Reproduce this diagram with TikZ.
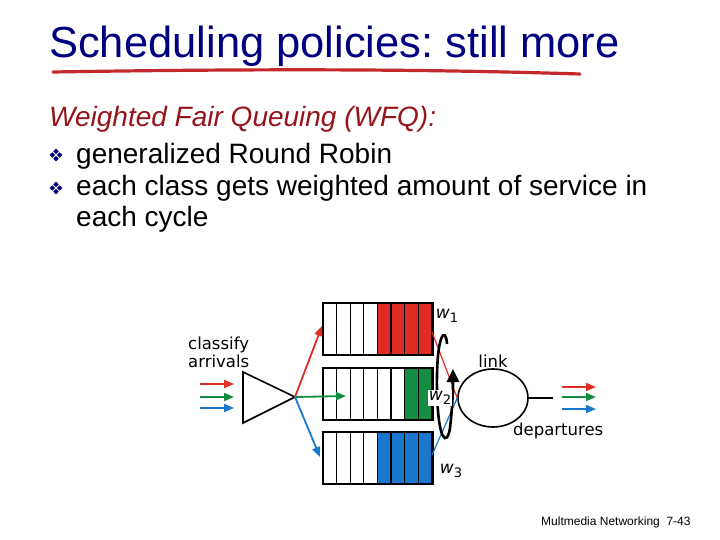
\documentclass[tikz,border=0pt]{standalone}
\usepackage{fontspec}
\setmainfont{Liberation Sans}
\newfontfamily\figfont{DejaVu Sans}
\usetikzlibrary{arrows.meta,shapes.geometric}
\frenchspacing

\definecolor{titleblue}{RGB}{0,0,128}
\definecolor{wfqred}{RGB}{150,20,25}
\definecolor{brushred}{RGB}{195,40,45}
\definecolor{qred}{RGB}{222,45,35}
\definecolor{qgreen}{RGB}{20,140,65}
\definecolor{qblue}{RGB}{25,120,205}

\tikzset{
  flow/.style={-{Triangle[length=10pt,width=8pt]}, line width=1.8pt},
  cell/.style={draw=black, line width=1.2pt},
  figtxt/.style={font=\figfont\fontsize{16.5}{18}\selectfont, inner sep=0pt},
  body/.style={font=\fontsize{28}{32}\selectfont, inner sep=0pt, anchor=base west},
  bulletmark/.style={fill=titleblue, diamond, inner sep=0pt, minimum size=5.5pt},
}
\newcommand{\wlabel}[1]{\textit{w}\raisebox{-4pt}{\fontsize{13}{13}\selectfont #1}}

\begin{document}
\begin{tikzpicture}[x=1pt,y=-1pt]
\useasboundingbox (0,0) rectangle (720,540);

% title and text
\node[font=\fontsize{43.5}{48}\selectfont, text=titleblue, inner sep=0pt, anchor=base west] (title) at (49,58) {Scheduling policies: still more};
\draw[brushred, line width=3.2pt, line cap=round] (53,72) .. controls (300,68) and (450,70) .. (580,74);
\node[body, text=wfqred, font=\fontsize{28}{32}\selectfont\itshape] (wfq) at (49,127) {Weighted Fair Queuing (WFQ):};
\node[body] (item1) at (76,164) {generalized Round Robin};
\node[body] (item2) at (76,196) {each class gets weighted amount of service in};
\node[body] (item2b) at (76,226) {each cycle};
\foreach \by/\nm in {155/b1, 188/b2} {
  \coordinate (\nm) at (56,\by);
  \node[bulletmark] at ([xshift=-3.6pt]\nm) {};
  \node[bulletmark] at ([xshift=3.6pt]\nm) {};
  \node[bulletmark] at ([yshift=-3.6pt]\nm) {};
  \node[bulletmark] at ([yshift=3.6pt]\nm) {};
}
\node[font=\fontsize{12}{14}\selectfont, inner sep=0pt, anchor=base west] (foot) at (541,525) {Multmedia Networking\ \ 7-43};

% queues
\foreach \yt/\col/\nw/\qn in {303/qred/4/qa, 368/qgreen/6/qb, 432/qblue/4/qc} {
  \foreach \i in {0,...,7} {
    \pgfmathsetmacro{\xl}{323+13.6*\i}
    \ifnum\i<\nw
      \draw[cell, fill=white] (\xl,\yt) rectangle ++(13.6,52);
    \else
      \draw[cell, fill=\col] (\xl,\yt) rectangle ++(13.6,52);
    \fi
  }
  \draw[line width=2pt] (323,\yt) rectangle ++(109.5,52);
  \coordinate (\qn) at (323,\yt);
}

% classifier
\coordinate (tl) at (243,372);
\coordinate (bl) at (243,423);
\coordinate (apex) at (295,397);
\draw[line width=1.6pt, line join=miter] (tl) -- (apex) -- (bl) -- cycle;
\node[figtxt, align=left, anchor=south west] (classify) at (188,368) {classify\\arrivals};

\foreach \yy/\col in {384/qred, 397/qgreen, 408/qblue}
  \draw[flow, \col] (200,\yy) -- (234,\yy);

\coordinate (inred) at (322,326);
\coordinate (ingreen) at (346,396);
\coordinate (inblue) at (320,457);
\draw[flow, qred] (apex) -- (inred);
\draw[flow, qgreen] (apex) -- (ingreen);
\draw[flow, qblue] (apex) -- (inblue);

% link
\node[ellipse, draw, line width=1.6pt, minimum width=70pt, minimum height=58pt, inner sep=0pt] (link) at (493,398) {};
\node[figtxt] (linktxt) at (493,361) {link};
\coordinate (lineend) at (553,398);
\draw[line width=1.6pt] (link.east) -- (lineend);
\node[figtxt, anchor=north west] (departures) at (513,423) {departures};

\coordinate (outred) at (432,332);
\coordinate (outblue) at (432,455);
\draw[qred, line width=1.2pt] (outred) -- (link.west);
\draw[qblue, line width=1.2pt] (outblue) -- (link.west);

% round robin loop
\coordinate (loopstart) at (447,344);
\coordinate (looptip) at (453,369);
\draw[line width=2.6pt, -{Triangle[length=13pt,width=12pt]}] (loopstart) .. controls (446,326) and (436,332) .. (437,390)
  .. controls (438,442) and (447,447) .. (450,428) .. controls (452,410) and (453,395) .. (looptip);

% weights
\node[figtxt, font=\figfont\fontsize{17}{18}\selectfont] (w1) at (447,316) {\wlabel{1}};
\node[figtxt, font=\figfont\fontsize{17}{18}\selectfont, fill=white, inner sep=1pt] (w2) at (440,398) {\wlabel{2}};
\node[figtxt, font=\figfont\fontsize{17}{18}\selectfont] (w3) at (451,471) {\wlabel{3}};

\foreach \yy/\col in {387/qred, 397/qgreen, 409/qblue}
  \draw[flow, \col] (562,\yy) -- (596,\yy);
\end{tikzpicture}
\end{document}
